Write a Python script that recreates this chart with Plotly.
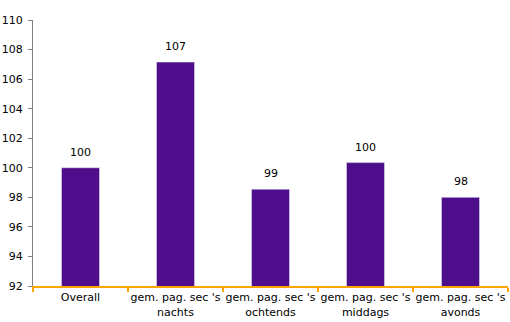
import plotly.graph_objects as go

categories = ["Overall", "gem. pag. sec 's<br>nachts", "gem. pag. sec 's<br>ochtends",
              "gem. pag. sec 's<br>middags", "gem. pag. sec 's<br>avonds"]
values = [100.0, 107.15, 98.55, 100.35, 98.0]
labels = [str(round(v)) for v in values]
yticks = list(range(92, 111, 2))

fig = go.Figure()
fig.add_trace(go.Bar(x=categories, y=values, marker_color="#4E0D8A", width=0.4,
                     hoverinfo="skip"))
for c, v, t in zip(categories, values, labels):
    fig.add_annotation(x=c, y=v, text=t, showarrow=False, yanchor="bottom", yshift=7,
                       font=dict(family="DejaVu Sans", size=11, color="black"))

fig.update_layout(
    width=510, height=322,
    margin=dict(l=33, r=2, t=20, b=36),
    paper_bgcolor="white", plot_bgcolor="white",
    showlegend=False,
    font=dict(family="DejaVu Sans", size=11, color="black"),
    bargap=0.6,
)
fig.update_yaxes(range=[92, 110], tickvals=yticks, showgrid=False, showline=True,
                 linecolor="#808080", linewidth=1, ticks="outside", ticklen=4,
                 tickcolor="#808080", zeroline=False, fixedrange=True,
                 ticklabelstandoff=3)
fig.update_xaxes(showline=True, linecolor="#FFA500", linewidth=2, ticks="outside",
                 tickson="boundaries", ticklen=4, tickcolor="#FFA500", tickwidth=2,
                 showgrid=False, tickangle=0, fixedrange=True)
fig.write_html("out.html")
